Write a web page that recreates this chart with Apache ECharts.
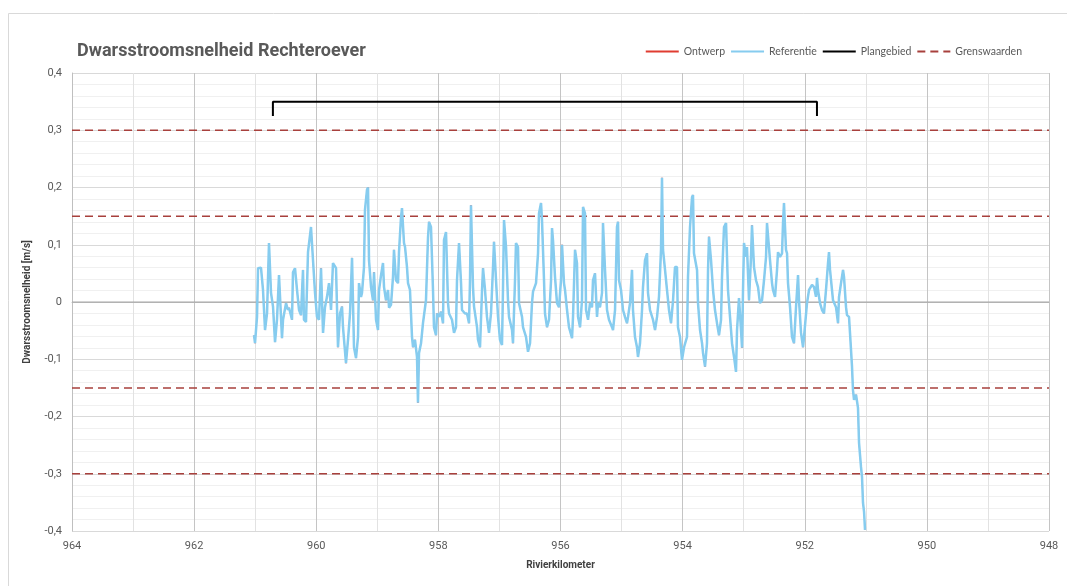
<!DOCTYPE html>
<html><head><meta charset="utf-8">
<script src="https://cdn.jsdelivr.net/npm/echarts@6/dist/echarts.min.js"></script>
<style>html,body{margin:0;padding:0;background:#fff}#c{width:1067px;height:586px}</style>
</head><body><div id="c"></div>
<script>
const xTicks = [964, 962, 960, 958, 956, 954, 952, 950, 948];
const yTicks = [-0.4, -0.3, -0.2, -0.1, 0, 0.1, 0.2, 0.3, 0.4];
const limitValues = [0.3, 0.15, -0.15, -0.3];
const planKm = [960.71, 951.8];
const planLevels = [0.325, 0.35];

const refKm = [961.019,961.003,960.970,960.954,960.905,960.872,960.839,960.806,960.774,960.741,960.708,960.675,960.643,960.610,960.561,960.544,960.495,960.463,960.446,960.397,960.381,960.348,960.315,960.282,960.250,960.217,960.201,960.168,960.135,960.086,960.053,960.020,959.988,959.955,959.922,959.889,959.857,959.824,959.791,959.758,959.726,959.676,959.644,959.611,959.578,959.562,959.513,959.480,959.447,959.414,959.382,959.349,959.316,959.300,959.267,959.251,959.218,959.202,959.169,959.152,959.136,959.103,959.071,959.054,959.021,958.989,958.972,958.939,958.907,958.890,958.858,958.825,958.808,958.776,958.743,958.727,958.694,958.661,958.645,958.612,958.596,958.563,958.546,958.514,958.497,958.465,
958.432,958.415,958.383,958.350,958.334,958.317,958.284,958.252,958.203,958.170,958.153,958.121,958.088,958.072,958.039,958.022,957.990,957.957,957.924,957.908,957.875,957.842,957.826,957.777,957.744,957.711,957.695,957.662,957.629,957.613,957.564,957.531,957.498,957.482,957.466,957.433,957.416,957.367,957.351,957.318,957.285,957.269,957.236,957.204,957.171,957.138,957.105,957.089,957.056,957.023,956.991,956.958,956.942,956.925,956.892,956.860,956.843,956.794,956.778,956.745,956.729,956.696,956.679,956.630,956.614,956.565,956.532,956.499,956.467,956.450,956.401,956.368,956.352,956.319,956.303,956.270,956.254,956.221,956.188,956.155,956.139,956.123,956.090,956.057,956.024,955.992,955.975,955.943,
955.926,955.893,955.861,955.811,955.795,955.762,955.730,955.713,955.680,955.648,955.631,955.599,955.582,955.549,955.517,955.484,955.468,955.435,955.402,955.386,955.353,955.320,955.304,955.271,955.238,955.206,955.156,955.140,955.107,955.075,955.058,955.042,955.009,954.976,954.944,954.911,954.894,954.862,954.829,954.813,954.780,954.747,954.731,954.698,954.665,954.649,954.616,954.583,954.567,954.534,954.485,954.452,954.419,954.387,954.354,954.338,954.321,954.288,954.256,954.223,954.190,954.157,954.125,954.092,954.076,954.043,954.010,953.977,953.928,953.912,953.879,953.846,953.830,953.814,953.764,953.748,953.715,953.682,953.666,953.633,953.601,953.584,953.568,953.535,953.502,953.470,
953.437,953.404,953.371,953.355,953.322,953.289,953.273,953.257,953.224,953.191,953.158,953.126,953.109,953.077,953.044,953.027,953.011,952.995,952.962,952.946,952.913,952.880,952.864,952.831,952.798,952.765,952.733,952.700,952.667,952.634,952.618,952.602,952.569,952.536,952.520,952.487,952.454,952.438,952.405,952.372,952.356,952.340,952.307,952.290,952.274,952.241,952.209,952.176,952.143,952.110,952.094,952.061,952.028,952.012,951.963,951.930,951.881,951.848,951.816,951.799,951.783,951.750,951.717,951.685,951.652,951.619,951.603,951.586,951.554,951.537,951.488,951.455,951.439,951.406,951.373,951.357,951.324,951.308,951.275,951.259,951.226,951.210,951.193,951.160,951.128,951.111,951.079,951.062,951.046,951.029,951.013];

const refVal = [-0.058,-0.072,-0.026,0.059,0.060,0.021,-0.049,-0.020,0.103,0.016,-0.008,-0.070,-0.031,0.047,-0.063,-0.031,-0.002,-0.014,-0.010,-0.031,0.052,0.059,0.021,-0.014,-0.023,0.056,-0.031,-0.035,0.087,0.131,0.073,0.016,-0.026,-0.031,0.059,-0.054,-0.009,0.009,0.033,-0.014,0.068,0.059,-0.079,-0.020,-0.008,-0.044,-0.107,-0.066,-0.020,0.077,-0.079,-0.098,-0.061,0.033,0.009,0.016,0.061,0.161,0.196,0.200,0.073,0.026,0.003,0.052,-0.031,-0.049,0.021,0.047,0.068,0.026,0.003,0.021,-0.010,-0.005,0.044,0.091,0.038,0.033,0.087,0.148,0.164,0.103,0.096,0.061,0.033,0.021,
-0.061,-0.079,-0.066,-0.096,-0.176,-0.089,-0.072,-0.037,0.003,0.112,0.140,0.131,0.021,-0.044,-0.058,-0.020,-0.026,-0.017,-0.037,0.108,0.122,-0.002,-0.020,-0.031,-0.054,-0.044,0.038,0.103,0.033,-0.014,-0.020,-0.020,-0.037,0.038,0.169,0.026,-0.008,-0.044,-0.066,-0.079,0.021,0.059,0.021,-0.026,-0.054,-0.020,0.061,0.105,0.038,-0.026,-0.066,-0.075,0.021,0.143,0.096,0.003,-0.026,-0.049,-0.072,0.038,0.103,0.096,-0.002,-0.026,-0.044,-0.061,-0.087,-0.072,-0.002,0.018,0.033,0.085,0.155,0.173,0.143,0.038,-0.020,-0.044,-0.031,0.038,0.129,0.108,0.044,-0.002,-0.009,0.038,0.100,0.033,
0.021,-0.014,-0.044,-0.063,-0.026,0.091,0.068,-0.026,-0.044,0.003,0.166,0.155,-0.014,-0.031,-0.002,-0.009,0.038,0.050,-0.026,-0.002,-0.009,0.016,0.138,0.056,-0.014,-0.031,-0.044,-0.049,-0.014,0.131,0.140,0.038,0.021,-0.014,-0.026,-0.037,-0.026,-0.002,0.056,-0.014,-0.061,-0.079,-0.096,-0.072,-0.014,0.026,0.073,0.085,0.016,-0.014,-0.031,-0.049,-0.026,0.009,0.091,0.217,0.091,0.056,0.021,-0.014,-0.037,0.003,0.061,0.061,-0.044,-0.061,-0.101,-0.079,-0.061,0.044,0.131,0.183,0.187,0.085,0.056,-0.002,-0.049,-0.072,-0.089,-0.113,-0.072,0.056,0.114,0.073,0.021,-0.014,
-0.037,-0.058,-0.031,0.044,0.131,0.138,0.079,0.021,-0.026,-0.072,-0.096,-0.122,-0.049,0.007,-0.049,-0.080,0.021,0.103,0.079,0.096,0.003,0.079,0.134,0.061,0.038,0.026,-0.002,0.003,0.038,0.079,0.138,0.140,0.073,0.033,0.021,0.009,0.056,0.087,0.079,0.085,0.138,0.173,0.091,0.085,0.033,-0.009,-0.061,-0.072,-0.009,0.047,0.003,-0.054,-0.079,-0.061,-0.002,0.021,0.030,0.026,0.009,0.042,0.021,-0.002,-0.014,-0.020,0.021,0.068,0.087,0.056,0.021,0.003,-0.009,-0.037,0.009,0.033,0.056,0.044,-0.009,-0.023,-0.026,-0.054,-0.113,-0.154,-0.171,-0.162,-0.185,-0.246,-0.288,-0.306,-0.351,-0.366,-0.398];

const refData = refKm.map((k, i) => [k, refVal[i]]);
const fmt = v => (Math.abs(v) < 1e-9 ? '0' : v.toFixed(1).replace('.', ','));
const labelColor = '#595959';
const limitColor = '#A8403C';

const limitSeries = limitValues.map(v => ({
  name: 'Grenswaarden', type: 'line', symbol: 'none', silent: true, z: 3,
  data: [[xTicks[0], v], [xTicks[xTicks.length - 1], v]],
  lineStyle: { color: limitColor, width: 1.5, type: [8, 5] }, itemStyle: { color: limitColor }
}));

const chart = echarts.init(document.getElementById('c'), null, { renderer: 'canvas' });
chart.setOption({
  animation: false,
  backgroundColor: '#ffffff',
  graphic: [{ type: 'rect', shape: { x: 8.5, y: 13.5, width: 1070, height: 590 }, style: { fill: 'none', stroke: '#d9d9d9', lineWidth: 1 }, silent: true }],
  title: { text: 'Dwarsstroomsnelheid Rechteroever', left: 72, top: 37,
    textStyle: { fontFamily: 'Roboto', fontWeight: 'bold', fontSize: 18, color: '#595959' } },
  legend: {
    data: ['Ontwerp', 'Referentie', 'Plangebied', 'Grenswaarden'],
    right: 40, top: 41, itemWidth: 33, itemHeight: 10, itemGap: 5,
    itemStyle: { opacity: 0 },
    textStyle: { fontFamily: 'Lato', fontSize: 10.5, color: '#595959' }
  },
  grid: { left: 72, right: 18, top: 73, bottom: 55 },
  xAxis: {
    type: 'value', min: 948, max: 964, interval: 2, inverse: true,
    name: 'Rivierkilometer', nameLocation: 'middle', nameGap: 29,
    nameTextStyle: { fontFamily: 'Roboto', fontWeight: 'bold', fontSize: 10, color: '#404040' },
    axisLine: { show: true, lineStyle: { color: '#bfbfbf' } },
    axisTick: { show: false },
    axisLabel: { color: labelColor, fontFamily: 'Roboto', fontSize: 11, margin: 10, formatter: v => String(v) },
    splitLine: { show: true, lineStyle: { color: '#c4c4c4', width: 1 } },
    minorTick: { show: false, splitNumber: 2 },
    minorSplitLine: { show: true, lineStyle: { color: '#e2e2e2', width: 1 } }
  },
  yAxis: {
    type: 'value', min: -0.4, max: 0.4, interval: 0.1,
    name: 'Dwarsstroomsnelheid [m/s]', nameLocation: 'middle', nameGap: 40,
    nameTextStyle: { fontFamily: 'Roboto', fontWeight: 'bold', fontSize: 10, color: '#404040' },
    axisLine: { show: true, lineStyle: { color: '#bfbfbf' } },
    axisTick: { show: false },
    axisLabel: { color: labelColor, fontFamily: 'Roboto', fontSize: 11, margin: 10, formatter: fmt },
    splitLine: { show: true, lineStyle: { color: '#d9d9d9', width: 1 } },
    minorTick: { show: false, splitNumber: 5 },
    minorSplitLine: { show: true, lineStyle: { color: '#f0f0f0', width: 1 } }
  },
  series: [
    { name: 'zero', type: 'line', symbol: 'none', silent: true, z: 1,
      data: [[xTicks[0], 0], [xTicks[xTicks.length - 1], 0]],
      lineStyle: { color: '#a6a6a6', width: 1 } },
    ...limitSeries,
    { name: 'Ontwerp', type: 'line', symbol: 'none', z: 4, data: refData,
      lineStyle: { color: '#E03C31', width: 1 }, itemStyle: { color: '#E03C31' } },
    { name: 'Referentie', type: 'line', symbol: 'none', z: 5, data: refData,
      lineStyle: { color: '#86CCEF', width: 2.5 }, itemStyle: { color: '#86CCEF' } },
    { name: 'Plangebied', type: 'line', symbol: 'none', z: 6,
      data: [[planKm[0], planLevels[0]], [planKm[0], planLevels[1]], [planKm[1], planLevels[1]], [planKm[1], planLevels[0]]],
      lineStyle: { color: '#000000', width: 2 }, itemStyle: { color: '#000000' } }
  ]
});
</script>
</body></html>
